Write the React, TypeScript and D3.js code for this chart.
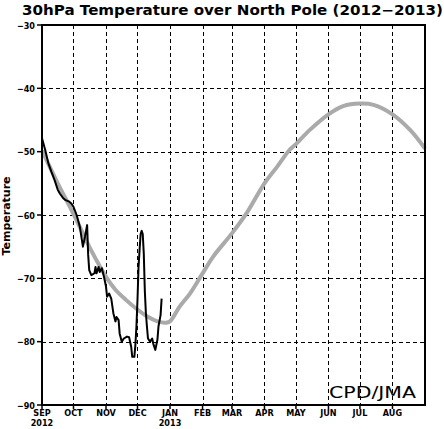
import React from 'react';
import * as d3 from 'd3';

// observed daily temperature (days since 2012-09-01, degC)
const obsDay = [0, 3, 6, 9, 12, 15, 17, 20, 22, 26, 28, 30, 33, 36, 39, 41, 43, 44, 45, 47, 50, 51, 52, 54, 55, 57, 59, 61, 62, 64, 66, 68, 70, 71, 73, 74, 76, 78, 81, 83, 85, 86, 88, 89, 90, 91, 92, 93, 94, 95, 96, 97, 98, 99, 100, 101, 103, 105, 106, 108, 110, 111, 113, 114];
const obsTemp = [-47.9, -49.7, -51.8, -53.2, -54.5, -56.0, -56.6, -57.3, -57.6, -57.9, -58.2, -58.7, -60.0, -61.8, -65.0, -63.4, -61.6, -66.3, -68.7, -69.5, -69.2, -68.2, -69.2, -68.2, -69.0, -68.4, -69.7, -71.3, -72.9, -72.4, -73.2, -75.5, -76.8, -76.1, -76.6, -78.7, -80.0, -79.5, -79.2, -79.3, -80.8, -82.4, -82.4, -80.5, -77.6, -73.4, -68.2, -65.5, -63.0, -62.5, -63.0, -66.1, -72.0, -75.5, -77.6, -79.5, -80.0, -79.5, -80.3, -81.3, -79.7, -77.6, -75.8, -73.2];

// climatology
const climDay = [0, 15, 30, 46, 62, 70, 80, 90, 100, 110, 118, 122, 131, 141, 152, 163, 181, 195, 212, 224, 236, 242, 255, 273, 287, 303, 316, 334, 351, 365];
const climTemp = [-49.8, -55.0, -59.8, -65.3, -70.0, -71.8, -73.4, -74.8, -76.0, -76.8, -77.0, -76.8, -74.5, -72.4, -69.5, -66.6, -62.9, -59.7, -55.0, -52.4, -49.7, -48.8, -46.6, -44.1, -42.8, -42.4, -42.6, -44.1, -46.6, -49.5];

const monthLabels = ['SEP', 'OCT', 'NOV', 'DEC', 'JAN', 'FEB', 'MAR', 'APR', 'MAY', 'JUN', 'JUL', 'AUG'];
const yearLabels: Record<number, string> = { 0: '2012', 4: '2013' };
const yTicks = [-90, -80, -70, -60, -50, -40, -30];

const start = new Date(2012, 8, 1);
const end = new Date(2013, 8, 1);
const dayToDate = (d: number) => d3.timeDay.offset(start, d);

export default function App() {
  const width = 444;
  const height = 429;
  const left = 42, right = 425, top = 25, bottom = 405;

  const x = d3.scaleTime().domain([start, end]).range([left, right]);
  const y = d3.scaleLinear().domain([-90, -30]).range([bottom, top]);
  const months = d3.timeMonth.range(start, end);

  const line = d3.line<[number, number]>()
    .x(d => x(dayToDate(d[0])))
    .y(d => y(d[1]));
  const climLine = d3.line<[number, number]>()
    .x(d => x(dayToDate(d[0])))
    .y(d => y(d[1]))
    .curve(d3.curveCatmullRom.alpha(0.5));

  const obs = obsDay.map((d, i) => [d, obsTemp[i]] as [number, number]);
  const clim = climDay.map((d, i) => [d, climTemp[i]] as [number, number]);

  const tickFont = "'DejaVu Sans Condensed', 'Liberation Sans Narrow', 'DejaVu Sans', sans-serif";

  return (
    <svg width={width} height={height} style={{ position: 'absolute', left: 0, top: 0, background: '#fff' }}>
      <rect x={0} y={0} width={width} height={height} fill="#fff" />
      <text x={22} y={15} fontFamily="'DejaVu Sans', sans-serif" fontWeight="bold" fontSize={14}
        textLength={421} lengthAdjust="spacingAndGlyphs">30hPa Temperature over North Pole (2012−2013)</text>

      {/* grid */}
      {months.slice(1).map((m, i) => (
        <line key={'gx' + i} x1={Math.round(x(m)) + 0.5} x2={Math.round(x(m)) + 0.5} y1={top} y2={bottom}
          stroke="#000" strokeWidth={1} strokeDasharray="4,3" />
      ))}
      {yTicks.slice(1, -1).map(t => (
        <line key={'gy' + t} x1={left} x2={right} y1={Math.round(y(t)) + 0.5} y2={Math.round(y(t)) + 0.5}
          stroke="#000" strokeWidth={1} strokeDasharray="4,3" />
      ))}

      {/* climatology and observation */}
      <path d={climLine(clim) || ''} fill="none" stroke="#aaaaaa" strokeWidth={4} />
      <path d={line(obs) || ''} fill="none" stroke="#000" strokeWidth={2} strokeLinejoin="round" />

      {/* frame */}
      <rect x={left} y={top} width={right - left} height={bottom - top} fill="none" stroke="#000" strokeWidth={2} />

      {/* y axis */}
      {yTicks.map(t => (
        <g key={'yt' + t}>
          <line x1={left - 5} x2={left} y1={y(t)} y2={y(t)} stroke="#000" strokeWidth={1.5} />
          <text x={35} y={y(t) + 3.5} textAnchor="end" fontFamily={tickFont} fontWeight="bold" fontSize={9}>
            {'−' + Math.abs(t)}
          </text>
        </g>
      ))}
      <text transform="translate(10,216) rotate(-90)" textAnchor="middle" fontFamily="'DejaVu Sans', sans-serif"
        fontWeight="bold" fontSize={11}>Temperature</text>

      {/* x axis */}
      {months.map((m, i) => (
        <g key={'xt' + i}>
          <line x1={x(m)} x2={x(m)} y1={bottom} y2={bottom + 4} stroke="#000" strokeWidth={1.5} />
          <text x={x(m)} y={416} textAnchor="middle" fontFamily={tickFont} fontWeight="bold" fontSize={9}>
            {monthLabels[i]}
          </text>
          {yearLabels[i] && (
            <text x={x(m)} y={426} textAnchor="middle" fontFamily={tickFont} fontWeight="bold" fontSize={9}>
              {yearLabels[i]}
            </text>
          )}
        </g>
      ))}

      <text x={329} y={398} fontFamily="'DejaVu Sans', sans-serif" fontSize={15}
        textLength={87} lengthAdjust="spacingAndGlyphs">CPD/JMA</text>
    </svg>
  );
}
